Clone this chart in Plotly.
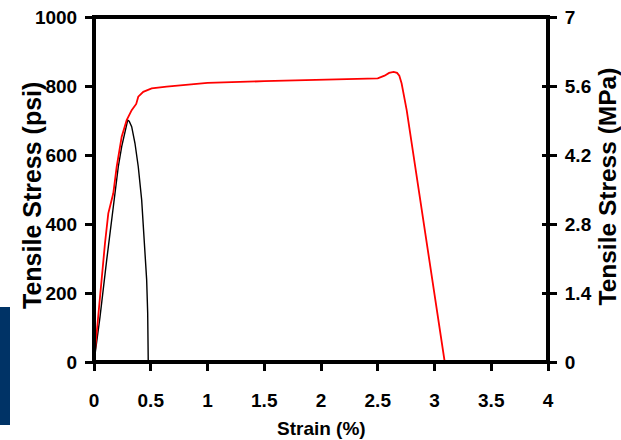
import plotly.graph_objects as go

# ---- data ----
red_strain = [0, 0.03, 0.053, 0.075, 0.097, 0.126, 0.17, 0.2, 0.244, 0.288, 0.332, 0.372,
              0.38, 0.39, 0.434, 0.508, 0.64, 0.934, 1.0, 1.5, 2.0, 2.5, 2.56, 2.6, 2.64,
              2.67, 2.69, 2.71, 2.755, 3.09]
red_stress = [0, 110, 189, 280, 345, 431, 489, 566, 653, 701, 730, 748,
              760, 769, 783, 793, 798, 808, 809, 814, 818, 822, 830, 838, 841,
              838, 830, 808, 730, 0]

black_strain = [0, 0.053, 0.112, 0.17, 0.214, 0.244, 0.273, 0.285, 0.297, 0.31, 0.332,
                0.361, 0.39, 0.42, 0.434, 0.449, 0.464, 0.473, 0.478]
black_stress = [0, 131, 296, 450, 566, 624, 672, 692, 701, 698, 682,
                634, 566, 470, 402, 315, 238, 141, 0]

x_ticks = [0, 0.5, 1, 1.5, 2, 2.5, 3, 3.5, 4]
x_ticktext = ["0", "0.5", "1", "1.5", "2", "2.5", "3", "3.5", "4"]
psi_ticks = [0, 200, 400, 600, 800, 1000]
mpa_ticks = [0, 1.4, 2.8, 4.2, 5.6, 7]
mpa_ticktext = ["0", "1.4", "2.8", "4.2", "5.6", "7"]
PSI_TO_MPA = 0.007  # chart's right axis: 1000 psi -> 7 MPa

FONT = "Liberation Sans, Arial, sans-serif"

fig = go.Figure()
fig.add_trace(go.Scatter(x=black_strain, y=black_stress, mode="lines",
                         line=dict(color="black", width=1.4), showlegend=False))
fig.add_trace(go.Scatter(x=red_strain, y=red_stress, mode="lines",
                         line=dict(color="#FF0000", width=1.8), showlegend=False))
# invisible traces to bind the right-hand MPa axes
mpa = [v * PSI_TO_MPA for v in red_stress]
fig.add_trace(go.Scatter(x=red_strain, y=mpa, yaxis="y2", mode="lines", opacity=0,
                         hoverinfo="skip", showlegend=False))
fig.add_trace(go.Scatter(x=red_strain, y=mpa, yaxis="y3", mode="lines", opacity=0,
                         hoverinfo="skip", showlegend=False))

tickfont = dict(family=FONT, size=19, color="black", weight="bold")
common = dict(showgrid=False, zeroline=False, showline=False, automargin=False,
              tickcolor="black", tickwidth=3)

fig.update_layout(
    template="none",
    width=621, height=440,
    margin=dict(l=94, r=73, t=17, b=78, pad=0),
    paper_bgcolor="white", plot_bgcolor="white",
    font=dict(family=FONT, color="black"),
    xaxis=dict(range=[0, 4], tickvals=x_ticks, ticktext=x_ticktext,
               ticks="outside", ticklen=8, tickfont=tickfont, ticklabelstandoff=13, **common),
    yaxis=dict(range=[0, 1000], tickvals=psi_ticks,
               ticks="outside", ticklen=8, tickfont=tickfont, ticklabelstandoff=4, **common),
    yaxis2=dict(range=[0, 7], tickvals=mpa_ticks, ticktext=mpa_ticktext,
                overlaying="y", side="right", anchor="x",
                ticks="outside", ticklen=8, tickfont=tickfont, ticklabelstandoff=4, **common),
    yaxis3=dict(range=[0, 7], tickvals=mpa_ticks,
                overlaying="y", side="right", anchor="x",
                ticks="inside", ticklen=6, showticklabels=False, **common),
    shapes=[
        dict(type="rect", xref="paper", yref="paper", x0=0, x1=1, y0=0, y1=1,
             line=dict(color="black", width=4), layer="above"),
        dict(type="rect", xref="paper", yref="paper",
             x0=-94 / 454, x1=-84 / 454, y0=(362 - 425) / 345, y1=(362 - 307) / 345,
             line=dict(width=0), fillcolor="#003366", layer="above"),
    ],
    annotations=[
        dict(text="Strain (%)", xref="paper", yref="paper", x=0.5, y=(362 - 428) / 345,
             xanchor="center", yanchor="middle", showarrow=False,
             font=dict(family=FONT, size=19, color="black", weight="bold")),
        dict(text="Tensile Stress (psi)", xref="paper", yref="paper",
             x=(32 - 94) / 454, y=(362 - 196) / 345, textangle=-90,
             xanchor="center", yanchor="middle", showarrow=False,
             font=dict(family=FONT, size=25, color="black", weight="bold")),
        dict(text="Tensile Stress (MPa)", xref="paper", yref="paper",
             x=(607 - 94) / 454, y=(362 - 186.5) / 345, textangle=-90,
             xanchor="center", yanchor="middle", showarrow=False,
             font=dict(family=FONT, size=24.5, color="black", weight="bold")),
    ],
)

fig.write_html("out.html", config={"displayModeBar": False},
               post_script="document.body.style.margin='0';")
